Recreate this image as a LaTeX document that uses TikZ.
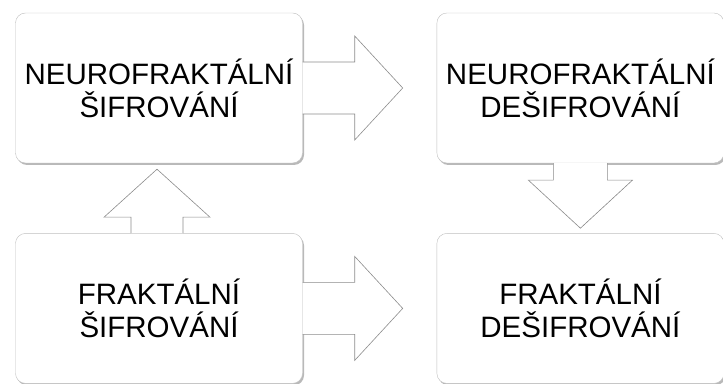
\documentclass[tikz,border=0pt]{standalone}
\usepackage{fontspec}
\setmainfont{Liberation Sans}
\usetikzlibrary{positioning,shadows}

\begin{document}
\begin{tikzpicture}[x=1pt, y=1pt, node distance=70pt,
    every node/.style={font=\fontsize{29.5}{33}\selectfont},
    box/.style={draw=black!25, fill=white, rounded corners=10pt,
        minimum width=287pt, minimum height=150pt, inner sep=0pt, align=center,
        drop shadow={shadow xshift=1.5pt, shadow yshift=-2pt, opacity=.55}},
    fatarrow/.style={draw=black!45, fill=white, line width=0.6pt, line join=miter}
    ]
\useasboundingbox (0,0) rectangle (723,383);
% boxes
\node[box] (nfs) at (159,295)   {NEUROFRAKTÁLNÍ\\ŠIFROVÁNÍ};
\node[box] (nfd) [right=134pt of nfs] {NEUROFRAKTÁLNÍ\\DEŠIFROVÁNÍ};
\node[box] (fs)  [below=70pt of nfs]  {FRAKTÁLNÍ\\ŠIFROVÁNÍ};
\node[box] (fd)  [below=70pt of nfd]  {FRAKTÁLNÍ\\DEŠIFROVÁNÍ};
% block arrows
\draw[fatarrow] ([yshift=26pt]nfs.east) -- ++(52,0) -- ++(0,26) -- ++(48,-52)
    -- ++(-48,-52) -- ++(0,26) -- ++(-52,0);
\draw[fatarrow] ([yshift=26pt]fs.east) -- ++(52,0) -- ++(0,26) -- ++(48,-52)
    -- ++(-48,-52) -- ++(0,26) -- ++(-52,0);
\draw[fatarrow] ([xshift=-28pt]fs.north) -- ++(0,16) -- ++(-27,0) -- ++(53,48)
    -- ++(53,-48) -- ++(-27,0) -- ++(0,-16);
\draw[fatarrow] ([xshift=-27pt]nfd.south) -- ++(0,-17) -- ++(-25,0) -- ++(52,-48)
    -- ++(52,48) -- ++(-25,0) -- ++(0,17);
\end{tikzpicture}
\end{document}
